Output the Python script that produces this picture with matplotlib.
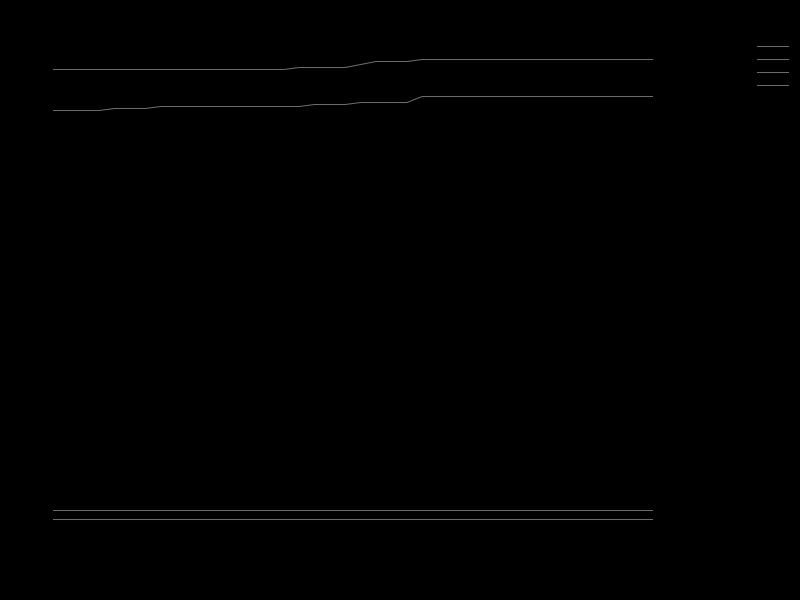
import matplotlib
matplotlib.use("Agg")
import matplotlib.pyplot as plt
import numpy as np

# ---- data ----
periods = list(range(1, 41))
series_a = [94.1] * 16 + [94.5] * 4 + [95.1] + [95.7] * 3 + [96.1] * 16
series_b = [85.9] * 4 + [86.3] * 3 + [86.7] * 10 + [87.1] * 3 + [87.5] * 4 + [88.7] * 16
series_c = [6.1] * 40
series_d = [4.3] * 40
series_names = ["A", "B", "C", "D"]

line_color = "#6a6a6a"
text_color = "#000000"

fig = plt.figure(figsize=(8, 6), dpi=100, facecolor="black")
ax = fig.add_axes([53 / 800, 60 / 600, 600 / 800, 500 / 600])
ax.set_facecolor("black")

for vals, name in zip([series_a, series_b, series_c, series_d], series_names):
    ax.plot(periods, vals, color=line_color, lw=0.75, label=name)

ax.set_xlim(periods[0], periods[-1])
ax.set_ylim(0, 100)
for s in ax.spines.values():
    s.set_visible(False)
ax.tick_params(colors=text_color, labelcolor=text_color, length=0, labelsize=8)

leg = ax.legend(loc="upper left", bbox_to_anchor=(757 / 800, 1 - 42 / 600),
                bbox_transform=fig.transFigure, frameon=False, fontsize=8,
                labelspacing=0.26, handlelength=2.8, borderpad=0, borderaxespad=0,
                handletextpad=0.2)
for t in leg.get_texts():
    t.set_color(text_color)

fig.savefig("out.png", dpi=100, facecolor="black")
